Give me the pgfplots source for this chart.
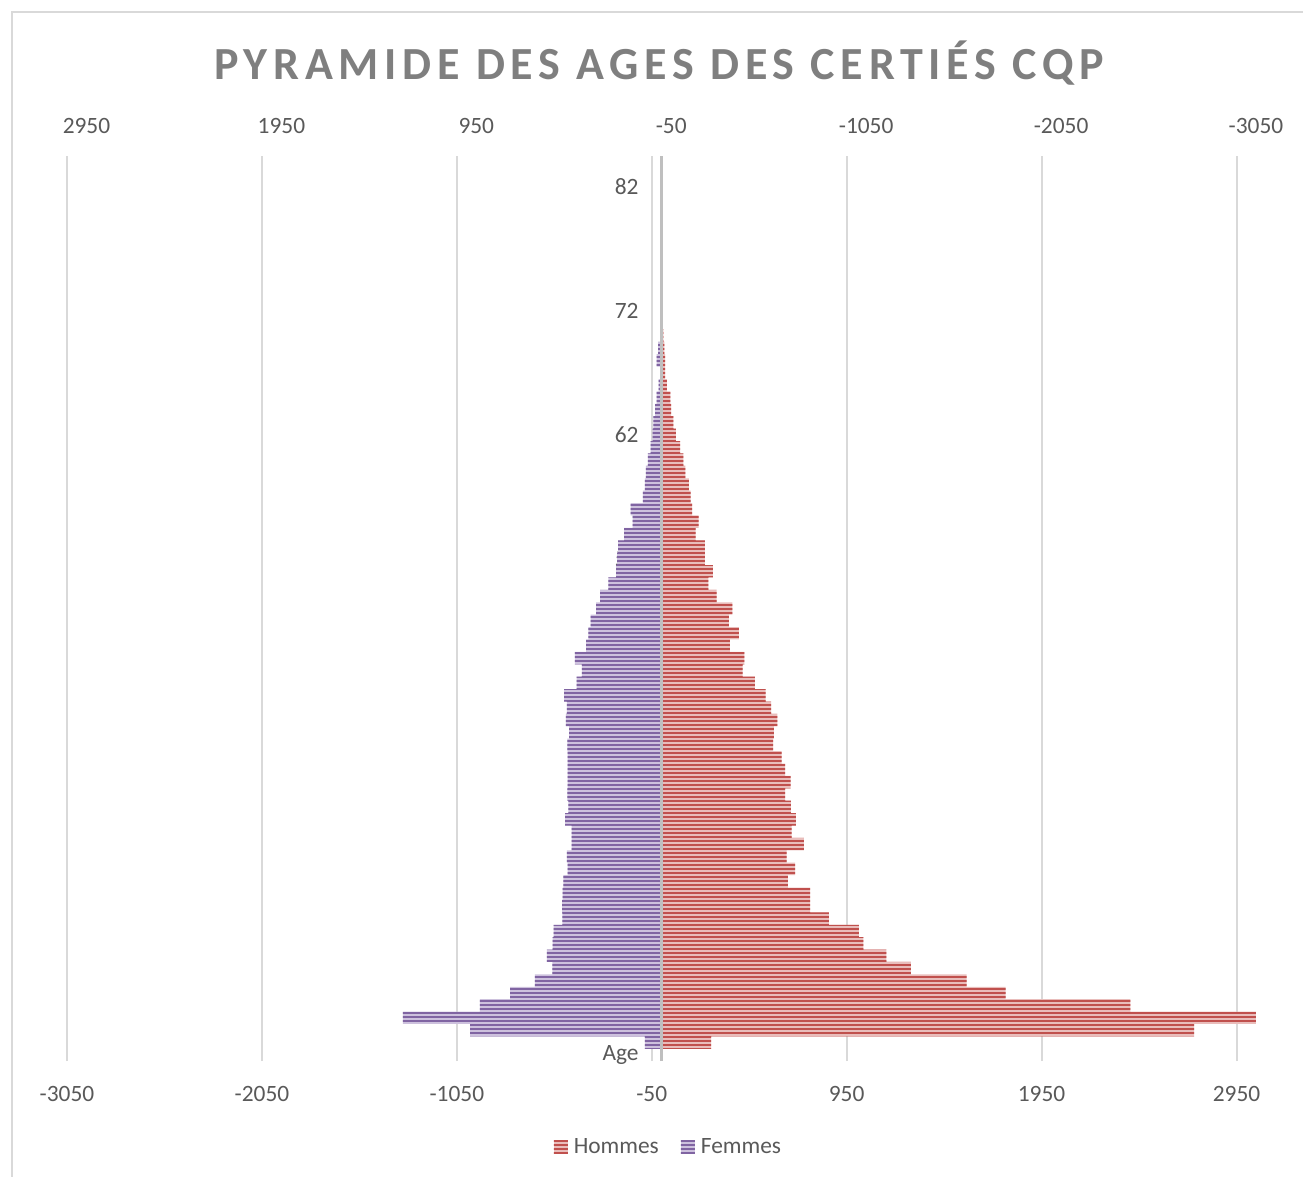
\documentclass[border=0pt]{standalone}
\usepackage{fontspec}
\setmainfont{Carlito}
\newfontfamily\titlefont[LetterSpace=12.5]{Carlito}
\usepackage{pgfplots}
\usepackage{pgfplotstable}
\pgfplotsset{compat=1.18}
\usetikzlibrary{patterns.meta}

\definecolor{hdark}{HTML}{C0504D}
\definecolor{hlight}{HTML}{E9BDBB}
\definecolor{fdark}{HTML}{8064A2}
\definecolor{flight}{HTML}{CDC1DD}
\definecolor{gridc}{HTML}{D9D9D9}
\definecolor{axisc}{HTML}{BFBFBF}
\definecolor{txt}{HTML}{595959}
\definecolor{titlec}{HTML}{7F7F7F}

\pgfplotsset{sqlegend/.style={legend image code/.code={\fill[##1] (0pt,-3.5pt) rectangle (7pt,3.5pt);}}}

\pgfplotstableread{
i F M
1 -85 255
2 -982 2733
3 -1327 3050
4 -932 2405
5 -777 1765
6 -649 1566
7 -560 1279
8 -588 1154
9 -558 1036
10 -553 1013
11 -508 859
12 -510 763
13 -507 763
14 -504 649
15 -482 685
16 -486 642
17 -461 731
18 -461 668
19 -495 690
20 -478 664
21 -483 634
22 -481 662
23 -481 634
24 -481 616
25 -483 573
26 -474 577
27 -491 594
28 -486 562
29 -500 534
30 -435 479
31 -409 416
32 -444 425
33 -387 351
34 -375 397
35 -363 346
36 -336 363
37 -315 283
38 -273 240
39 -233 264
40 -228 223
41 -222 223
42 -192 175
43 -148 190
44 -158 157
45 -95 150
46 -85 140
47 -80 122
48 -70 112
49 -56 95
50 -45 74
51 -42 61
52 -33 50
53 -25 45
54 -15 28
55 -5 18
56 -25 18
57 -17 15
58 0 10
}\pyr

\begin{document}
\begin{tikzpicture}
\useasboundingbox (0,0) rectangle (651.5pt,588.5pt);
\draw[gridc, line width=0.8pt] (6pt,-5pt) -- (6pt,582.5pt) -- (660pt,582.5pt);
\node[font=\titlefont\bfseries\fontsize{23}{28}\selectfont, text=titlec, anchor=base] at (329.5pt,548.5pt) {PYRAMIDE DES AGES DES CERTIÉS CQP};

\begin{axis}[
  at={(33.5pt,57.9pt)}, anchor=south west,
  width=594.5pt, height=452.7pt, scale only axis,
  xmin=-3050, xmax=3050, ymin=-0.5, ymax=72.5,
  xtick={-3050,-2050,-1050,-50,950,1950,2950},
  xticklabels={-3050,-2050,-1050,-50,950,1950,2950},
  xmajorgrids, grid style={gridc, line width=1pt},
  ytick={0,10,...,70}, yticklabels={Age,22,32,42,52,62,72,82},
  axis line style={draw=none}, major tick length=0pt,
  xtick pos=bottom, ytick pos=left,
  xticklabel style={anchor=base, yshift=-20pt},
  yticklabel style={anchor=east, inner sep=0pt, xshift=286pt},
  tick label style={font=\fontsize{11.7}{14}\selectfont, text=txt},
  legend style={at={(0.5075,-0.0948)}, anchor=center, draw=none, fill=none,
    legend columns=2, font=\fontsize{11.7}{14}\selectfont, text=txt,
    nodes={inner xsep=3pt},
    /tikz/every even column/.append style={column sep=8pt}},
  legend cell align=left,
]
\addplot[xbar, bar width=1, bar shift=0pt, fill=hlight, draw=none,
  postaction={pattern={Lines[angle=0,distance=2pt,line width=1pt]}, pattern color=hdark},
  sqlegend]
  table[x=M, y=i] {\pyr};
\addlegendentry{Hommes}
\addplot[xbar, bar width=1, bar shift=0pt, fill=flight, draw=none,
  postaction={pattern={Lines[angle=0,distance=2pt,line width=1pt]}, pattern color=fdark},
  sqlegend]
  table[x=F, y=i] {\pyr};
\addlegendentry{Femmes}
\addplot[axisc, line width=1.75pt, forget plot] coordinates {(0,-0.5) (0,72.5)};
\end{axis}

\begin{axis}[
  at={(33.5pt,57.9pt)}, anchor=south west,
  width=594.5pt, height=452.7pt, scale only axis,
  xmin=-3050, xmax=3050, ymin=-0.5, ymax=72.5, x dir=reverse,
  xtick={-3050,-2050,-1050,-50,950,1950,2950},
  xticklabels={-3050,-2050,-1050,-50,950,1950,2950},
  xtick pos=top, xticklabel pos=top, ytick=\empty,
  axis line style={draw=none}, major tick length=0pt,
  xticklabel style={anchor=base, yshift=11.15pt},
  tick label style={font=\fontsize{11.7}{14}\selectfont, text=txt},
]
\addplot[draw=none, forget plot] coordinates {(0,0)};
\end{axis}
\end{tikzpicture}
\end{document}
